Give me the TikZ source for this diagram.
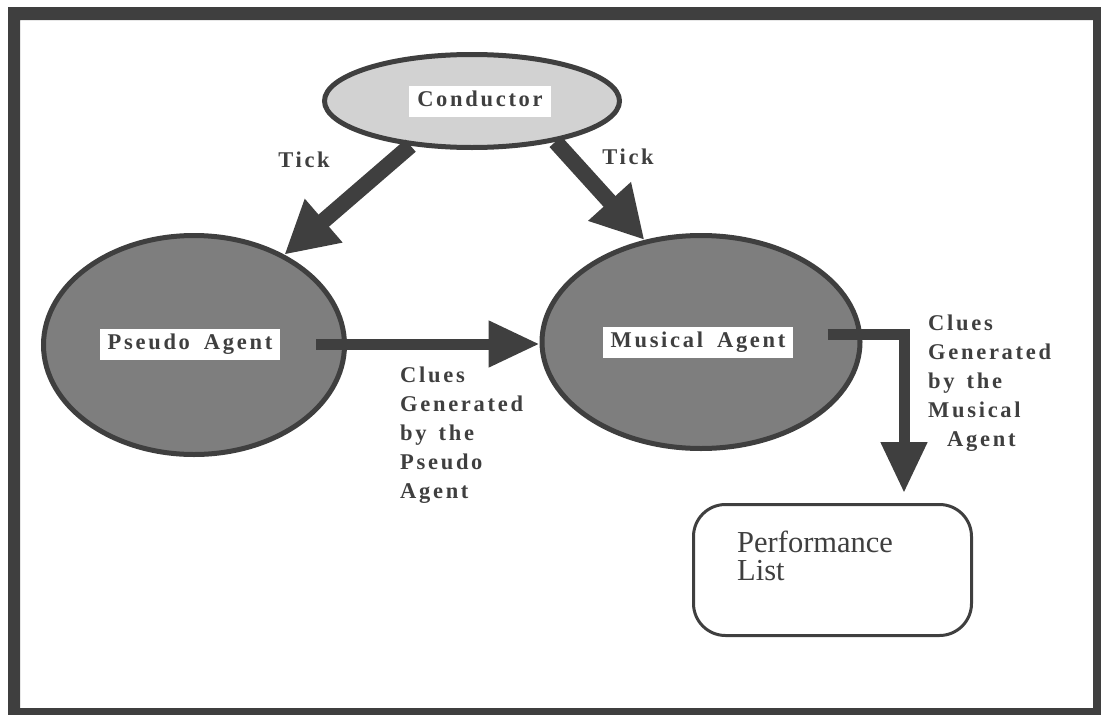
\documentclass[tikz,border=0pt]{standalone}
\usepackage{fontspec}
\setmainfont{Liberation Serif}
\newfontfamily\lblfont[LetterSpace=12]{Liberation Serif}
\usetikzlibrary{shapes.geometric,arrows.meta}

\definecolor{ink}{HTML}{3F3F3F}
\definecolor{agentfill}{HTML}{7E7E7E}
\definecolor{condfill}{HTML}{D2D2D2}

\begin{document}
\begin{tikzpicture}[x=1pt,y=-1pt,
  lbl/.style={font=\lblfont\bfseries\fontsize{22.5}{29}\selectfont, text=ink, inner sep=0pt},
  agent/.style={ellipse, draw=ink, line width=5pt, fill=agentfill, inner sep=0pt},
  namebox/.style={fill=white, inner xsep=8pt, inner ysep=5pt, text height=16pt, text depth=5pt,
    font=\lblfont\bfseries\fontsize{22.5}{29}\selectfont, text=ink},
  tickarrow/.style={draw=ink, line width=16pt, -{Triangle[length=52pt,width=54pt]}},
  cluearrow/.style={draw=ink, line width=11pt, -{Triangle[length=51pt,width=44pt]}}
]
\useasboundingbox (0,0) rectangle (1101,715);

% outer frame
\fill[ink, even odd rule] (8,7) rectangle (1101,715) (20,20) rectangle (1093,708);

% agents
\node[agent, fill=condfill, minimum width=295pt, minimum height=93pt] (cond) at (472,101) {};
\node[agent, minimum width=301pt, minimum height=219pt] (pseudo) at (194,345) {};
\node[agent, minimum width=318pt, minimum height=213pt] (musical) at (701,342) {};

\node[namebox] (cbox) at (480,101) {Conductor};
\node[namebox] (pbox) at (190,344) {Pseudo\hspace{14pt}Agent};
\node[namebox] (mbox) at (698,342) {Musical\hspace{14pt}Agent};

% performance list
\node[draw=ink, line width=3pt, rounded corners=32pt, minimum width=278pt, minimum height=131pt] (perf) at (832.5,570) {};
\node[anchor=base west, inner sep=0pt, text=ink, font=\fontsize{30.5}{28}\selectfont] (perftext) at (737,552)
  {\begin{tabular}[t]{@{}l@{}}Performance\\List\end{tabular}};

% tick arrows
\draw[tickarrow] (cond.216) -- (pseudo.45);
\draw[tickarrow] (cond.334) -- (musical.119);
\node[lbl] (tickl) at (304,160) {Tick};
\node[lbl] (tickr) at (628,157) {Tick};

% clue arrows
\draw[cluearrow] ([xshift=36pt]pbox.east) -- (pbox.east -| musical.west);
\coordinate (bend) at (904,334);
\coordinate (mstart) at ([xshift=34pt]mbox.east);
\draw[cluearrow, shorten >=10pt] (mstart |- bend) -- (bend) -- (bend |- perf.north);

\node[lbl, anchor=base west] (pclues) at (400,382)
  {\begin{tabular}[t]{@{}l@{}}Clues\\Generated\\by\hspace{12pt}the\\Pseudo\\Agent\end{tabular}};
\node[lbl, anchor=base west] (mclues) at (928,330)
  {\begin{tabular}[t]{@{}l@{}}Clues\\Generated\\by\hspace{12pt}the\\Musical\\\hspace*{19pt}Agent\end{tabular}};
\end{tikzpicture}
\end{document}
